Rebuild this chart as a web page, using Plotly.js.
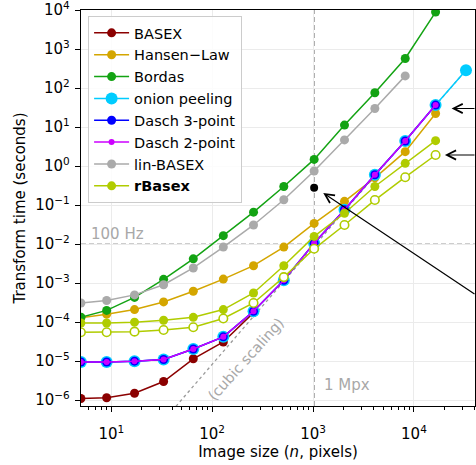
<!DOCTYPE html>
<html>
<head>
<meta charset="utf-8">
<script src="https://cdn.plot.ly/plotly-3.0.1.min.js"></script>
<style>html,body{margin:0;padding:0;background:#fff;}#chart{width:476px;height:465px;}</style>
</head>
<body>
<div id="chart"></div>
<script>
// ---- data ----
const sizes = [5, 9, 17, 33, 65, 129, 257, 513, 1025, 2049, 4097, 8193, 16385, 32769];
const basex = [1.1e-6, 1.15e-6, 1.5e-6, 3.0e-6, 1.15e-5, 3.1e-5, 1.75e-4];
const hansenLaw = [1.3e-4, 1.6e-4, 2.1e-4, 3.3e-4, 6.2e-4, 1.27e-3, 2.8e-3, 8.4e-3, 0.034, 0.125, 0.5, 2.35, 22.4];
const bordas = [1.34e-4, 2.0e-4, 4.3e-4, 1.25e-3, 4.2e-3, 0.0165, 0.066, 0.30, 1.49, 11.3, 76, 575, 8900];
const onionPeeling = [9.5e-6, 9.5e-6, 1.0e-5, 1.1e-5, 2.05e-5, 4.2e-5, 1.9e-4, 1.18e-3, 0.0106, 0.076, 0.6, 4.4, 36.7, 289];
const dasch3 = [9.5e-6, 9.5e-6, 1.0e-5, 1.1e-5, 2.05e-5, 4.2e-5, 1.9e-4, 1.18e-3, 0.0106, 0.076, 0.6, 4.4, 36.7];
const dasch2 = [9.5e-6, 9.5e-6, 1.0e-5, 1.1e-5, 2.05e-5, 4.2e-5, 1.9e-4, 1.18e-3, 0.0106, 0.076, 0.6, 4.4, 36.7];
const linBasex = [3.1e-4, 3.6e-4, 5.0e-4, 9.1e-4, 2.45e-3, 8.4e-3, 0.031, 0.137, 0.75, 4.7, 30, 206];
const rBasex = [9.5e-5, 9.5e-5, 1.0e-4, 1.12e-4, 1.33e-4, 2.1e-4, 5.6e-4, 2.8e-3, 0.0158, 0.062, 0.30, 1.18, 4.5];
const rBasexOpen = [5.5e-5, 5.5e-5, 5.7e-5, 6.3e-5, 7.4e-5, 1.24e-4, 3.1e-4, 1.43e-3, 7.6e-3, 0.031, 0.135, 0.52, 1.93];
const highlightN = [1025];
const highlightT = [0.28];
const cubicN = [40, 32769];
const cubicT = [5.3e-7, 289];
const rateLimit = 0.01;      // 100 Hz
const megapixelN = 1024;     // 1 Mpx
const xTickVals = [10, 100, 1000, 10000];
const xTickText = ['10<sup>1</sup>', '10<sup>2</sup>', '10<sup>3</sup>', '10<sup>4</sup>'];
const yTickVals = [1e-6, 1e-5, 1e-4, 1e-3, 1e-2, 1e-1, 1, 10, 100, 1000, 10000];
const yTickText = ['10<sup>\u22126</sup>', '10<sup>\u22125</sup>', '10<sup>\u22124</sup>', '10<sup>\u22123</sup>',
  '10<sup>\u22122</sup>', '10<sup>\u22121</sup>', '10<sup>0</sup>', '10<sup>1</sup>', '10<sup>2</sup>',
  '10<sup>3</sup>', '10<sup>4</sup>'];

// ---- drawing ----
const FONT = 'DejaVu Sans, Verdana, sans-serif';
const xs = a => sizes.slice(0, a.length);

function series(name, y, color, size, extra) {
  return Object.assign({
    type: 'scatter', mode: 'lines+markers', name: name,
    x: xs(y), y: y,
    line: {color: color, width: 1.5},
    marker: {color: color, size: size, symbol: 'circle'},
    cliponaxis: true
  }, extra || {});
}

const traces = [
  {type: 'scatter', mode: 'lines', x: cubicN, y: cubicT, showlegend: false,
   line: {color: '#9a9a9a', width: 1.3, dash: 'dot'}},
  series('BASEX', basex, '#8b0000', 9),
  series('Hansen\u2212Law', hansenLaw, '#d4a600', 9),
  series('Bordas', bordas, '#13a313', 9),
  series('onion peeling', onionPeeling, '#00ccff', 12),
  series('Dasch 3-point', dasch3, '#0000ff', 9),
  series('Dasch 2-point', dasch2, '#cc00ff', 6),
  series('lin-BASEX', linBasex, '#aaaaaa', 9),
  series('<b>rBasex</b>', rBasex, '#b0cc00', 9),
  series('rBasex (open)', rBasexOpen, '#b0cc00', 8.5, {
    showlegend: false,
    marker: {color: '#ffffff', size: 8.5, line: {color: '#b0cc00', width: 1.6}}
  }),
  {type: 'scatter', mode: 'markers', x: highlightN, y: highlightT, showlegend: false,
   marker: {color: '#000000', size: 8}}
];

const minorVals = [];
for (let e = 0; e <= 4; e++) for (let m = 2; m <= 9; m++) minorVals.push(m * Math.pow(10, e));

const axisCommon = {
  type: 'log', showline: true, linecolor: '#000', linewidth: 1.2, mirror: true,
  ticks: 'outside', ticklen: 5, tickwidth: 1, tickcolor: '#000',
  showgrid: true, gridcolor: '#ebebeb', gridwidth: 1, zeroline: false,
  ticklabeloverflow: 'allow',
  tickfont: {family: FONT, size: 15, color: '#000'}
};

const gray = '#9c9c9c';
const layout = {
  width: 476, height: 465,
  margin: {l: 81, r: 1, t: 10, b: 59},
  paper_bgcolor: '#fff', plot_bgcolor: '#fff',
  font: {family: FONT, size: 15, color: '#000'},
  hovermode: false,
  showlegend: true,
  legend: {
    x: 0.018, y: 0.985, xanchor: 'left', yanchor: 'top',
    bgcolor: 'rgba(255,255,255,0.85)', bordercolor: '#cccccc', borderwidth: 1,
    font: {family: FONT, size: 14.5, color: '#000'},
    itemwidth: 35, tracegroupgap: 0
  },
  xaxis: Object.assign({}, axisCommon, {
    range: [0.70, 4.605],
    tickmode: 'array', tickvals: xTickVals, ticktext: xTickText,
    ticklabelstandoff: 9,
    minor: {ticks: 'outside', ticklen: 3, tickwidth: 1, tickcolor: '#000', tickmode: 'array', tickvals: minorVals, showgrid: false},
    title: {text: 'Image size (<i>n</i>, pixels)', font: {family: FONT, size: 15, color: '#000'}, standoff: 1}
  }),
  yaxis: Object.assign({}, axisCommon, {
    range: [-6.15, 4.003],
    tickmode: 'array', tickvals: yTickVals, ticktext: yTickText,
    ticklabelstandoff: 2,
    title: {text: 'Transform time (seconds)', font: {family: FONT, size: 15, color: '#000'}, standoff: 6}
  }),
  shapes: [
    {type: 'line', xref: 'paper', x0: 0, x1: 1, yref: 'y', y0: rateLimit, y1: rateLimit,
     line: {color: gray, width: 1.4, dash: '5px,3px'}, layer: 'between'},
    {type: 'line', yref: 'paper', y0: 0, y1: 1, xref: 'x', x0: megapixelN, x1: megapixelN,
     line: {color: gray, width: 1.4, dash: '5px,3px'}, layer: 'between'}
  ],
  annotations: [
    {text: '100 Hz', xref: 'x', yref: 'y', x: 0.779, y: -1.73, xanchor: 'left', yanchor: 'middle',
     showarrow: false, font: {family: FONT, size: 15, color: '#a8a8a8'}},
    {text: '1 Mpx', xref: 'x', yref: 'y', x: 3.088, y: -5.6, xanchor: 'left', yanchor: 'middle',
     showarrow: false, font: {family: FONT, size: 15, color: '#a8a8a8'}},
    {text: '(cubic scaling)', xref: 'x', yref: 'y', x: 2.335, y: -4.936, textangle: -48,
     showarrow: false, font: {family: FONT, size: 14.5, color: '#a8a8a8'}},
    {text: ' ', xref: 'x', yref: 'y', x: 4.373, y: 1.478, ax: 27, ay: 0,
     showarrow: true, arrowhead: 5, arrowsize: 1.5, arrowwidth: 1.2, arrowcolor: '#000', font: {size: 1}},
    {text: ' ', xref: 'x', yref: 'y', x: 4.307, y: 0.286, ax: 33, ay: 0,
     showarrow: true, arrowhead: 5, arrowsize: 1.5, arrowwidth: 1.2, arrowcolor: '#000', font: {size: 1}},
    {text: ' ', xref: 'x', yref: 'y', x: 3.101, y: -0.69, ax: 154, ay: 102,
     showarrow: true, arrowhead: 5, arrowsize: 1.5, arrowwidth: 1.2, arrowcolor: '#000', font: {size: 1}}
  ]
};

Plotly.newPlot('chart', traces, layout, {staticPlot: true, displayModeBar: false});
</script>
</body>
</html>
